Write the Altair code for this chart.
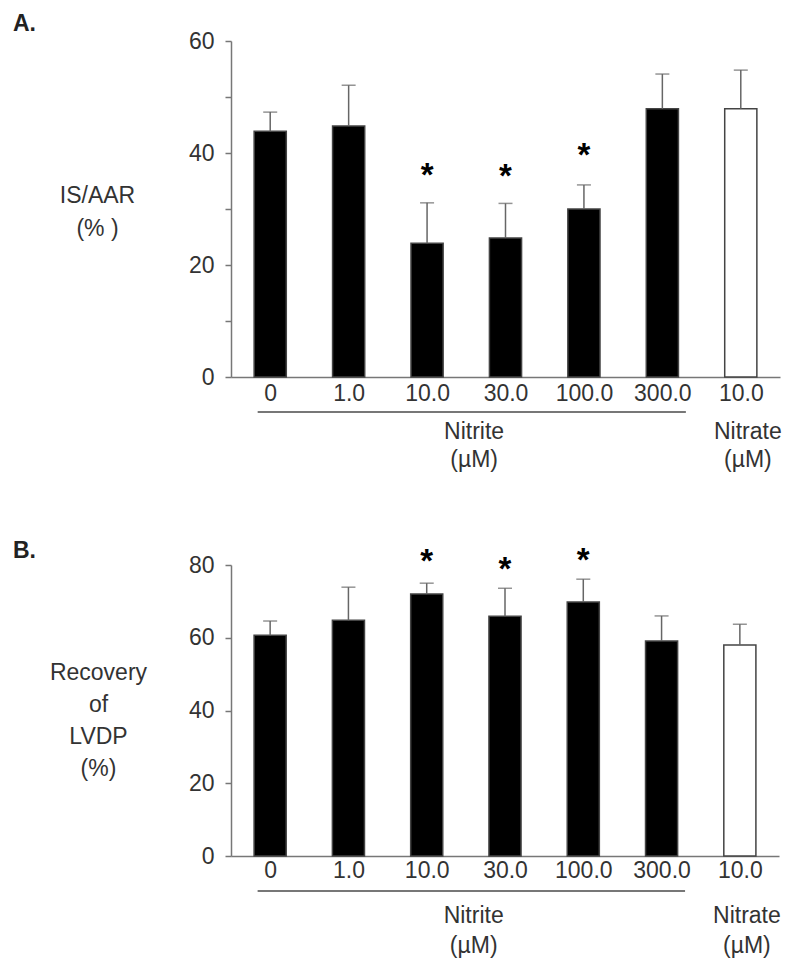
import altair as alt
import pandas as pd

# ---------------- data ----------------
x_labels = ["0", "1.0", "10.0", "30.0", "100.0", "300.0", "10.0"]
bar_kind = ["black", "black", "black", "black", "black", "black", "white"]
group_names = ["Nitrite", "Nitrate"]
group_units = ["(µM)", "(µM)"]

a_mean = [43.9, 44.8, 23.9, 24.8, 30.0, 47.9, 47.9]
a_err = [3.4, 7.3, 7.2, 6.2, 4.3, 6.2, 6.9]
a_star_idx = [2, 3, 4]
a_star_val = [37.5, 37.4, 41.0]

b_mean = [60.7, 64.8, 72.0, 65.9, 69.8, 59.1, 58.0]
b_err = [3.9, 9.1, 3.0, 7.7, 6.3, 6.9, 5.7]
b_star_idx = [2, 3, 4]
b_star_val = [83.2, 81.0, 83.5]

FONT = "Liberation Sans"
FS = 23
TXT = "#333333"
AXC = "#777777"
BAR_HALF = 0.205
label_expr = "[" + ",".join("'%s'" % s for s in x_labels) + "][datum.value]"


def panel(tag, means, errs, star_idx, star_val, ymax, ystep, ytitle, tline,
          W, H, tx, ty, lab_pad, ul_dy, name_dy, unit_dy, tag_dy):
    df = pd.DataFrame({
        "i": list(range(len(means))),
        "mean": means,
        "upper": [m + e for m, e in zip(means, errs)],
        "kind": bar_kind,
    })
    df["x0"] = df["i"] - BAR_HALF
    df["x1"] = df["i"] + BAR_HALF
    df["zero"] = 0

    xs = alt.Scale(domain=[-0.5, 6.5], nice=False, zero=False)
    ys = alt.Scale(domain=[0, ymax], nice=False)
    xaxis = alt.Axis(values=list(range(7)), labelExpr=label_expr, ticks=False,
                     grid=False, domainColor=AXC, domainWidth=1.5,
                     labelFontSize=FS, labelColor=TXT, labelPadding=lab_pad,
                     labelFont=FONT, title=None)
    yaxis = alt.Axis(values=list(range(0, ymax + 1, ystep)),
                     labelExpr="datum.value % 20 == 0 ? datum.label : ''",
                     grid=False, tickSize=6, tickColor=AXC, tickWidth=1.5,
                     domainColor=AXC, domainWidth=1.5, labelFontSize=FS,
                     labelColor=TXT, labelPadding=11, labelFont=FONT,
                     title=ytitle, titleAngle=0, titleAlign="center",
                     titleBaseline="middle", titleX=tx, titleY=ty,
                     titleFontSize=FS, titleFontWeight="normal",
                     titleColor=TXT, titleFont=FONT, titleLineHeight=tline)

    def X(f):
        return alt.X(f, scale=xs, axis=xaxis)

    def Y(f):
        return alt.Y(f, scale=ys, axis=yaxis)

    base = alt.Chart(df)
    bars = base.mark_bar(stroke="#444444", strokeWidth=1.5).encode(
        x=X("x0:Q"), x2="x1", y=Y("mean:Q"), y2="zero",
        fill=alt.Fill("kind:N", scale=alt.Scale(domain=["black", "white"],
                                                range=["#000000", "#ffffff"]),
                      legend=None))
    err = base.mark_rule(color="#666666", strokeWidth=1.5).encode(
        x=X("i:Q"), y=Y("mean:Q"), y2="upper")
    cap = base.mark_tick(orient="horizontal", size=14, thickness=1.5,
                         color="#666666").encode(x=X("i:Q"), y=Y("upper:Q"))

    sdf = pd.DataFrame({"i": star_idx, "v": star_val, "t": ["*"] * len(star_idx)})
    stars = alt.Chart(sdf).mark_text(fontSize=33, fontWeight="bold",
                                     baseline="alphabetic", dy=19,
                                     color="#000000", font=FONT).encode(
        x=X("i:Q"), y=Y("v:Q"), text="t:N")

    udf = pd.DataFrame({"s": [-0.16], "e": [5.3]})
    underline = alt.Chart(udf).mark_rule(color=AXC, strokeWidth=2).encode(
        x=X("s:Q"), x2="e", y=alt.value(H + ul_dy))

    gdf = pd.DataFrame({"name": group_names, "unit": group_units, "xc": [2.6, 6.09]})
    gname = alt.Chart(gdf).mark_text(fontSize=FS, color=TXT, font=FONT,
                                     baseline="middle").encode(
        x=X("xc:Q"), y=alt.value(H + name_dy), text="name:N")
    gunit = alt.Chart(gdf).mark_text(fontSize=FS, color=TXT, font=FONT,
                                     baseline="middle").encode(
        x=X("xc:Q"), y=alt.value(H + unit_dy), text="unit:N")

    tdf = pd.DataFrame({"t": [tag]})
    tagtxt = alt.Chart(tdf).mark_text(fontSize=23, fontWeight="bold", color="#222222",
                                      font=FONT, align="left",
                                      baseline="middle").encode(
        x=alt.value(-218), y=alt.value(tag_dy), text="t:N")

    return alt.layer(bars, err, cap, stars, underline, gname, gunit, tagtxt).properties(
        width=W, height=H)


pa = panel("A.", a_mean, a_err, a_star_idx, a_star_val, 60, 10,
           ["IS/AAR", "(% )"], 33, 549, 336, -134, 154, 5, 35, 55, 83, -17)
pb = panel("B.", b_mean, b_err, b_star_idx, b_star_val, 80, 20,
           ["Recovery", "of", "LVDP", "(%)"], 32, 548, 291, -133, 107, 3, 35, 60, 90, -14)

chart = alt.vconcat(pa, pb, spacing=68).properties(
    padding={"left": 5, "top": 5, "right": 0, "bottom": 5}
).configure_view(stroke=None)

chart.save("out.html", embed_options={"renderer": "svg", "actions": False})
